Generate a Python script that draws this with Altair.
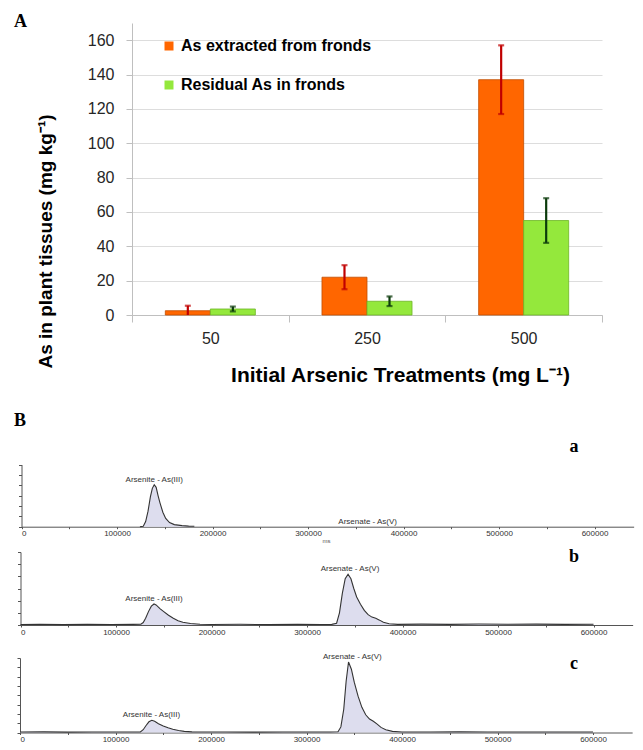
import altair as alt
import pandas as pd

SANS = "Liberation Sans"
SERIF = "Liberation Serif"
H = 740
W = 627

# ---------------- Panel A data ----------------
treatments = ["50", "250", "500"]
series_names = ["As extracted from fronds", "Residual As in fronds"]
extracted_mean = [2.5, 22.0, 137.0]
extracted_err = [2.9, 7.0, 20.0]
residual_mean = [3.5, 8.0, 55.0]
residual_err = [1.4, 2.8, 13.0]
y_ticks_a = [0, 20, 40, 60, 80, 100, 120, 140, 160]

# ---------------- Panel B data (retention time in ms, signal in axis units) ----------------
a_time = [124000, 127500, 130000, 132500, 135000, 137000, 139000, 141000, 143000, 145000,
          148000, 151000, 155000, 160000, 168000, 175000, 181000]
a_signal = [0.0, 0.05, 0.5, 1.5, 2.9, 3.7, 4.05, 3.8, 3.0, 2.3,
            1.4, 0.8, 0.4, 0.2, 0.1, 0.06, 0.04]
a_label_names = ["Arsenite - As(III)", "Arsenate - As(V)"]
a_label_time = [139000, 362500]
a_label_signal = [4.05, 0.0]

b_time = [0, 20000, 45000, 70000, 95000, 118000, 126000, 128500, 131000, 134000,
          137000, 139800, 142000, 146000, 150000, 155000, 160000, 165000, 170000, 178000,
          188000, 200000, 230000, 260000, 290000, 315000, 326000, 331000, 334000, 337000,
          340000, 343000, 346000, 349000, 352000, 356000, 360000, 364000, 368000, 372000,
          376000, 380000, 386000, 395000, 420000, 450000, 480000, 510000, 540000, 570000,
          600000]
b_signal = [0.04, 0.06, 0.03, 0.05, 0.04, 0.05, 0.06, 0.2, 0.55, 1.1,
            1.55, 1.73, 1.65, 1.35, 1.1, 0.8, 0.55, 0.35, 0.22, 0.12,
            0.06, 0.04, 0.06, 0.03, 0.05, 0.04, 0.05, 0.15, 1.0, 2.6,
            3.8, 4.17, 3.8, 3.0, 2.3, 1.7, 1.2, 0.85, 0.65, 0.55,
            0.4, 0.22, 0.1, 0.05, 0.07, 0.05, 0.08, 0.06, 0.07, 0.05,
            0.06]
b_label_names = ["Arsenite - As(III)", "Arsenate - As(V)"]
b_label_time = [139800, 345000]
b_label_signal = [1.73, 4.17]

c_time = [0, 25000, 50000, 75000, 100000, 120000, 126000, 129000, 132000, 135000,
          138000, 141000, 145000, 150000, 155000, 160000, 166000, 172000, 180000, 190000,
          215000, 245000, 275000, 305000, 325000, 333000, 336000, 339000, 341500, 344000,
          347000, 350000, 354000, 358000, 362000, 366000, 370000, 374000, 378000, 383000,
          390000, 400000, 430000, 460000, 490000, 520000, 550000, 580000, 600000]
c_signal = [0.05, 0.07, 0.04, 0.06, 0.05, 0.05, 0.06, 0.3, 0.75, 1.15,
            1.31, 1.2, 0.95, 0.7, 0.5, 0.35, 0.22, 0.12, 0.07, 0.05,
            0.06, 0.04, 0.06, 0.05, 0.05, 0.08, 0.6, 2.5, 5.5, 7.57,
            6.8, 5.4, 3.9, 2.7, 1.9, 1.45, 1.2, 0.9, 0.55, 0.3,
            0.12, 0.06, 0.05, 0.07, 0.05, 0.06, 0.05, 0.06, 0.05]
c_label_names = ["Arsenite - As(III)", "Arsenate - As(V)"]
c_label_time = [137700, 348000]
c_label_signal = [1.31, 7.57]

x_tick_vals = list(range(0, 600001, 50000))
X_END = 641000

# ---------------- Panel A ----------------
rows = []
for s, means, errs in [(series_names[0], extracted_mean, extracted_err),
                       (series_names[1], residual_mean, residual_err)]:
    for t, m, e in zip(treatments, means, errs):
        rows.append({"treatment": t, "series": s, "value": m,
                     "lo": max(0.0, m - e), "hi": m + e})
bars_df = pd.DataFrame(rows)

bar_x_scale = alt.Scale(domain=treatments, range=[124, 594], paddingInner=0, paddingOuter=0)
bar_x_axis = alt.Axis(orient="bottom", offset=307 - H, tickBand="extent", tickSize=7, labelPadding=8,
                      labelAngle=0, labelFont=SANS, labelFontSize=16, labelColor="#262626",
                      domainColor="#BFBFBF", tickColor="#BFBFBF",
                      title="Initial Arsenic Treatments (mg L⁻¹)", titleFont=SANS, titleFontSize=21,
                      titleFontWeight="bold", titleColor="#000000", titleX=392, titleY=60,
                      titleBaseline="middle")
bar_xoff_scale = alt.Scale(domain=series_names, paddingOuter=0.74, paddingInner=0)
bar_y_scale = alt.Scale(domain=[0, 170], range=[307, 15], nice=False)
bar_y_axis = alt.Axis(orient="left", offset=-124, values=y_ticks_a, tickSize=6, labelPadding=12,
                      labelFont=SANS, labelFontSize=16, labelColor="#262626",
                      domainColor="#BFBFBF", tickColor="#BFBFBF",
                      title="As in plant tissues (mg kg⁻¹)", titleFont=SANS, titleFontSize=19,
                      titleFontWeight="bold", titleColor="#000000", titleX=-87, titleY=233,
                      titleBaseline="middle")


def bx():
    return alt.X("treatment:N", sort=treatments, scale=bar_x_scale, axis=bar_x_axis)


def bxo():
    return alt.XOffset("series:N", sort=series_names, scale=bar_xoff_scale)


def by(field):
    return alt.Y(field, scale=bar_y_scale, axis=bar_y_axis)


bars = alt.Chart(bars_df).mark_bar(strokeWidth=0.8).encode(
    x=bx(), xOffset=bxo(), y=by("value:Q"),
    color=alt.Color("series:N", sort=series_names,
                    scale=alt.Scale(domain=series_names, range=["#FF6600", "#94E83C"]),
                    legend=alt.Legend(orient="none", legendX=153, legendY=30, title=None,
                                      symbolType="square", symbolSize=81, symbolStrokeWidth=0,
                                      labelFont=SANS, labelFontSize=16, labelFontWeight="bold",
                                      labelColor="#000000", labelLimit=0, labelOffset=4,
                                      rowPadding=23, padding=0)),
    stroke=alt.Stroke("series:N", sort=series_names,
                      scale=alt.Scale(domain=series_names, range=["#C24E00", "#6DB526"]),
                      legend=None),
)


def err_layers(series, color):
    base = alt.Chart(bars_df).transform_filter(alt.datum.series == series)
    rule = base.mark_rule(color=color, strokeWidth=2.2).encode(
        x=bx(), xOffset=bxo(), y=by("lo:Q"), y2="hi:Q")
    top = base.mark_tick(color=color, orient="horizontal", size=6, thickness=2.2).encode(
        x=bx(), xOffset=bxo(), y=by("hi:Q"))
    bottom = base.transform_filter(alt.datum.lo > 0).mark_tick(
        color=color, orient="horizontal", size=6, thickness=2.2).encode(
        x=bx(), xOffset=bxo(), y=by("lo:Q"))
    return [rule, top, bottom]


bar_layer = alt.layer(bars, *err_layers(series_names[0], "#C00000"),
                      *err_layers(series_names[1], "#0B3B0B"))


# ---------------- Panel B ----------------
def chrom_layer(times, signal, lab_names, lab_t, lab_s, ymax, y_px, x_px, y_off, ms=False):
    df = pd.DataFrame({"t": times, "s": signal})
    ldf = pd.DataFrame({"name": lab_names, "t": lab_t, "s": lab_s})
    xscale = alt.Scale(domain=[0, X_END], range=x_px, nice=False, zero=False)
    yscale = alt.Scale(domain=[0, ymax], range=y_px, nice=False)
    ax = dict(orient="bottom", offset=y_px[0] - H, values=x_tick_vals, format="d",
              labelExpr="datum.value % 100000 === 0 ? datum.label : ''",
              tickSize=2, labelPadding=1, labelFont=SANS, labelFontSize=8, labelColor="#333333",
              domainColor="#555555", tickColor="#555555")
    if ms:
        ax.update(title="ms", titleFont=SANS, titleFontSize=6, titleFontWeight="normal",
                  titleColor="#555555", titleX=318, titleY=14, titleBaseline="middle")
    else:
        ax.update(title=None)
    xaxis = alt.Axis(**ax)
    yaxis = alt.Axis(orient="left", offset=y_off, values=list(range(ymax + 1)),
                     labels=False, tickSize=3, domainColor="#555555",
                     tickColor="#555555", title=None)

    def cx():
        return alt.X("t:Q", scale=xscale, axis=xaxis)

    def cy():
        return alt.Y("s:Q", scale=yscale, axis=yaxis)

    area = alt.Chart(df).mark_area(color="#DDDDEE", opacity=1).encode(x=cx(), y=cy())
    line = alt.Chart(df).mark_line(color="#333333", strokeWidth=1.1).encode(x=cx(), y=cy())
    text = alt.Chart(ldf).mark_text(font=SANS, fontSize=8, color="#333333",
                                    baseline="bottom", dy=-1).encode(
        x=cx(), y=cy(), text="name:N")
    return alt.layer(area, line, text)


chrom_a = chrom_layer(a_time, a_signal, a_label_names, a_label_time, a_label_signal,
                      6, [518.7, 456.5], [13.5, 13.5 + 6.41 * 95.5], -13.5, ms=True)
chrom_b = chrom_layer(b_time, b_signal, b_label_names, b_label_time, b_label_signal,
                      6, [617, 544], [12.5, 12.5 + 6.41 * 95.5], -12.5)
chrom_c = chrom_layer(c_time, c_signal, c_label_names, c_label_time, c_label_signal,
                      8, [724.5, 650], [12, 12 + 6.41 * 95.5], -12)


def letter(txt, x, y, size=18, align="left"):
    return alt.Chart(alt.Data(values=[{}])).mark_text(
        text=txt, font=SERIF, fontWeight="bold", fontSize=size, align=align,
        baseline="alphabetic", color="#000000").encode(x=alt.value(x), y=alt.value(y))


letters = [letter("A", 6, 19), letter("B", 6, 418),
           letter("a", 566, 444, align="center"),
           letter("b", 566, 554, align="center"),
           letter("c", 566, 661, align="center")]

chart = alt.layer(bar_layer, chrom_a, chrom_b, chrom_c, *letters).resolve_scale(
    x="independent", y="independent"
).resolve_axis(
    x="independent", y="independent"
).properties(
    width=W, height=H, padding=0, background="#FFFFFF",
    autosize=alt.AutoSizeParams(type="none")
).configure_view(stroke=None)

chart.save("out.html", embed_options={"renderer": "svg", "actions": False})
